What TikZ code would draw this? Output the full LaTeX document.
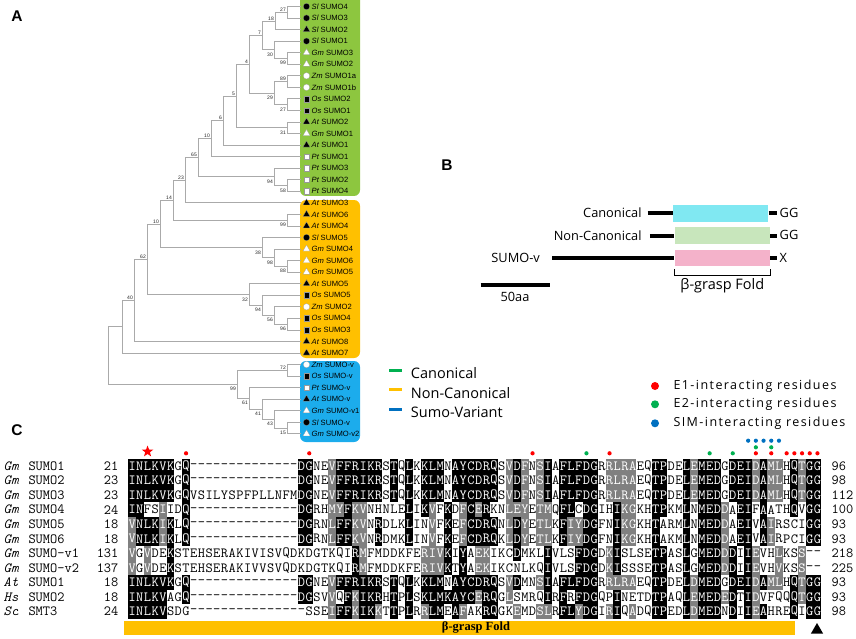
\documentclass[tikz,border=0pt]{standalone}
\usepackage{fontspec}
\setmainfont{Liberation Sans}
\newfontfamily\legfont{Open Sans}
\newfontfamily\foldfont{Liberation Serif}
\newcommand\seqfont{\ttfamily}
\usepackage{xstring}
\usetikzlibrary{calc,positioning,shapes.geometric}

\definecolor{canon}{RGB}{141,198,63}
\definecolor{noncanon}{RGB}{255,192,0}
\definecolor{sumov}{RGB}{28,172,236}
\definecolor{legcanon}{RGB}{0,176,80}
\definecolor{legsumov}{RGB}{0,112,192}
\definecolor{boxcanon}{RGB}{128,232,242}
\definecolor{boxnon}{RGB}{200,230,188}
\definecolor{boxsumov}{RGB}{244,178,202}
\definecolor{treegray}{RGB}{170,170,170}
\definecolor{e1red}{RGB}{255,0,0}
\definecolor{e2green}{RGB}{0,176,80}
\definecolor{simblue}{RGB}{0,112,192}
\colorlet{shk}{black}
\colorlet{shg}{black!50}
\colorlet{shw}{white}
\colorlet{txk}{white}
\colorlet{txg}{white}
\colorlet{txw}{black}

\tikzset{
  branch/.style={draw=treegray, line width=0.8pt},
  boot/.style={font=\fontsize{5}{5}\selectfont, inner sep=0pt, text=black!85},
  bsu/.style={boot, anchor=south east, xshift=-1pt, yshift=0.6pt},
  bsl/.style={boot, anchor=north east, xshift=-1pt, yshift=-2.8pt},
  sym/.style={inner sep=0pt, draw=black!40, line width=0.2pt},
  bc/.style={sym, circle, fill=black, minimum size=6.4pt},
  wc/.style={sym, circle, fill=white, minimum size=6.4pt},
  bt/.style={sym, regular polygon, regular polygon sides=3, fill=black, minimum size=8pt},
  wt/.style={sym, regular polygon, regular polygon sides=3, fill=white, minimum size=8pt},
  bs/.style={sym, rectangle, fill=black, minimum size=5.6pt},
  ws/.style={sym, rectangle, fill=white, minimum size=5.6pt},
  leaflab/.style={anchor=west, inner sep=0pt, font=\fontsize{7.6}{8}\selectfont},
  panel/.style={font=\bfseries\fontsize{15.5}{16}\selectfont, inner sep=0pt},
  blab/.style={inner sep=0pt, font=\legfont\fontsize{12.8}{13}\selectfont},
  bbox/.style={inner sep=0pt, minimum width=95.3pt, minimum height=16.7pt},
  protline/.style={line width=4pt},
  legkey/.style={inner sep=0pt, minimum width=13pt, minimum height=3.8pt},
  legtxt/.style={anchor=west, inner sep=0pt, font=\legfont\fontsize{14.5}{15}\selectfont},
  dotkey/.style={circle, inner sep=0pt, minimum size=8pt},
  restxt/.style={anchor=west, inner sep=0pt,
    font=\legfont\addfontfeature{LetterSpace=11.5}\fontsize{12.5}{13}\selectfont},
  namelab/.style={anchor=west, inner sep=0pt, font=\seqfont\fontsize{14}{14}\selectfont},
  res/.style={inner sep=0pt, minimum width=7.8pt, minimum height=14.7pt,
    font=\seqfont\fontsize{14}{14}\selectfont},
}

% one clade: name, upper child, lower child, x of node, bootstrap, label style
\newcommand\clade[6]{%
  \path let \p1=($(#2)!0.5!(#3)$) in coordinate (#1) at (#4pt,\y1);
  \draw[branch] (#2) -- (#2 -| #1) -- (#3 -| #1) -- (#3);
  \node[#6] (bs#1) at (#1) {#5};
}

% one alignment row: row, species, protein, first, residues, shading, last
\newcommand\alnrow[7]{%
  \pgfmathsetmacro\rowy{466+(#1-1)*14.55}
  \node[namelab] (sp#1) at (3.5,\rowy) {\itshape #2};
  \node[namelab] (pn#1) at (28.3,\rowy) {#3};
  \node[namelab, anchor=east] (na#1) at (118.6,\rowy) {#4};
  \foreach \col in {1,...,90}{%
    \StrChar{#5}{\col}[\rch]%
    \StrChar{#6}{\col}[\shd]%
    \node[res, fill=sh\shd, text=tx\shd] (c#1x\col) at ({128.3+(\col-0.5)*7.7},\rowy) {\rch};
  }
  \node[namelab] (nb#1) at (831.5,\rowy) {#7};
}

\begin{document}
\begin{tikzpicture}[x=1pt,y=-1pt]
\useasboundingbox (0,0) rectangle (856,639);

%% A: tree
\node[panel] (pa) at (17,16) {A};
\fill[canon, rounded corners=6pt] (300,-8) rectangle (360,196);
\fill[noncanon, rounded corners=6pt] (300,200) rectangle (360,358);
\fill[sumov, rounded corners=6pt] (300,361) rectangle (360,442);

\foreach \sym/\sp/\nm [count=\i] in {bc/Sl/SUMO4, bc/Sl/SUMO3, bt/Sl/SUMO2,
  bc/Sl/SUMO1, wt/Gm/SUMO3, wt/Gm/SUMO2, wc/Zm/SUMO1a, wc/Zm/SUMO1b,
  bs/Os/SUMO2, bs/Os/SUMO1, bt/At/SUMO2, wt/Gm/SUMO1, bt/At/SUMO1,
  ws/Pt/SUMO1, ws/Pt/SUMO3, ws/Pt/SUMO2, ws/Pt/SUMO4, bt/At/SUMO3,
  bt/At/SUMO6, bt/At/SUMO4, bc/Sl/SUMO5, wt/Gm/SUMO4, wt/Gm/SUMO6,
  wt/Gm/SUMO5, bt/At/SUMO5, bs/Os/SUMO5, wc/Zm/SUMO2, bs/Os/SUMO4,
  bs/Os/SUMO3, bt/At/SUMO8, bt/At/SUMO7, wc/Zm/SUMO-v, bs/Os/SUMO-v,
  ws/Pt/SUMO-v, bt/At/SUMO-v, wt/Gm/SUMO-v1, bc/Sl/SUMO-v, wt/Gm/SUMO-v2}
{
  \coordinate (L\i) at (301,{6.5+(\i-1)*11.55});
  \node[\sym] (s\i) at (306.5,{6.5+(\i-1)*11.55}) {};
  \node[leaflab] (t\i) at (311.5,{6.5+(\i-1)*11.55}) {\textit{\sp} \nm};
}
% canonical clade
\clade{g1}{L1}{L2}{287}{27}{bsu}
\clade{g2}{g1}{L3}{275}{18}{bsu}
\clade{g3}{L5}{L6}{287}{99}{bsl}
\clade{g4}{L4}{g3}{274}{30}{bsl}
\clade{g5}{g2}{g4}{262}{7}{bsu}
\clade{g6}{L7}{L8}{287}{89}{bsu}
\clade{g7}{L9}{L10}{287}{27}{bsl}
\clade{g8}{g6}{g7}{274}{29}{bsl}
\clade{g9}{g5}{g8}{249}{4}{bsu}
\clade{g10}{L11}{L12}{287}{31}{bsl}
\clade{g11}{g9}{g10}{236}{5}{bsu}
\clade{g12}{g11}{L13}{223}{6}{bsu}
\clade{g13}{g12}{L14}{211}{10}{bsu}
\clade{g14}{L16}{L17}{287}{58}{bsl}
\clade{g15}{L15}{g14}{274}{94}{bsl}
\clade{g16}{g13}{g15}{198}{65}{bsu}
\clade{g17}{g16}{L18}{185}{23}{bsu}
% non-canonical clade
\clade{o1}{L19}{L20}{287}{99}{bsl}
\clade{g18}{g17}{o1}{173}{14}{bsu}
\clade{o2}{L23}{L24}{287}{88}{bsl}
\clade{o3}{L22}{o2}{274}{98}{bsl}
\clade{o4}{L21}{o3}{262}{38}{bsl}
\clade{o5}{g18}{o4}{160}{10}{bsu}
\clade{o6}{L28}{L29}{287}{96}{bsl}
\clade{o7}{L27}{o6}{274}{56}{bsl}
\clade{o8}{L26}{o7}{262}{94}{bsl}
\clade{o9}{L25}{o8}{249}{32}{bsl}
\clade{o10}{o5}{o9}{147}{62}{bsu}
\clade{o11}{o10}{L30}{134}{40}{bsu}
\clade{o12}{o11}{L31}{122}{}{boot}
% sumo-variant clade
\clade{b1}{L32}{L33}{287}{72}{bsu}
\clade{b2}{L37}{L38}{287}{15}{bsl}
\clade{b3}{L36}{b2}{274}{43}{bsl}
\clade{b4}{L35}{b3}{262}{41}{bsl}
\clade{b5}{L34}{b4}{249}{61}{bsl}
\clade{b6}{b1}{b5}{237}{99}{bsl}
\clade{root}{o12}{b6}{108}{}{boot}

%% B: domain sketch
\node[panel] (pb) at (447,165) {B};
\node[bbox, fill=boxcanon] (canbox) at (720.8,213.3) {};
\node[bbox, fill=boxnon] (nonbox) at (722.3,235.7) {};
\node[bbox, fill=boxsumov, minimum height=15.7pt] (svbox) at (722.3,257.8) {};
\node[blab, anchor=east] (canlab) at (641.7,212.7) {Canonical};
\node[blab, anchor=east] (nonlab) at (641.7,235.3) {Non-Canonical};
\node[blab, anchor=east] (svlab) at (540,258.3) {SUMO-v};
\coordinate[left=25.3pt of canbox.west] (canin);
\coordinate[left=24.7pt of nonbox.west] (nonin);
\coordinate[left=122pt of svbox.west] (svin);
\node[blab, anchor=west] (cangg) at (779.5,212.7) {GG};
\node[blab, anchor=west] (nongg) at (779.5,235.3) {GG};
\node[blab, anchor=west] (svx) at (779.5,258.3) {X};
\draw[protline] (canin) -- (canbox.west);
\draw[protline] (nonin) -- (nonbox.west);
\draw[protline] (svin) -- (svbox.west);
\draw[protline, shorten >=3pt] (canbox.east) -- (canbox.east -| cangg.west);
\draw[protline, shorten >=3pt] (nonbox.east) -- (nonbox.east -| nongg.west);
\draw[protline, shorten >=3pt] (svbox.east) -- (svbox.east -| svx.west);
\draw[line width=0.8pt] ([yshift=-3.5pt]svbox.south west) -- ++(0,6)
  -| ([yshift=-3.5pt]svbox.south east);
\node[blab, font=\legfont\fontsize{14.5}{15}\selectfont] (foldlab) at (722.3,286) {β-grasp Fold};
\coordinate (sc0) at (480.7,285);
\coordinate (sc1) at (550,285);
\draw[protline] (sc0) -- (sc1);
\node[blab] (sclab) at (515,296.5) {50aa};

%% legends
\node[legkey, fill=legcanon] (kcan) at (395.5,370.5) {};
\node[legkey, fill=noncanon] (knon) at (395.5,389.5) {};
\node[legkey, fill=legsumov] (ksv) at (395.5,409.5) {};
\node[legtxt] (tcan) at (410.7,373.3) {Canonical};
\node[legtxt] (tnon) at (410.7,393.3) {Non-Canonical};
\node[legtxt] (tsv) at (410.7,412.7) {Sumo-Variant};
\node[dotkey, fill=e1red] (ke1) at (655,386) {};
\node[dotkey, fill=e2green] (ke2) at (655,404.3) {};
\node[dotkey, fill=simblue] (ksim) at (655,423.3) {};
\node[restxt] (te1) at (673.3,386) {E1-interacting residues};
\node[restxt] (te2) at (673.3,404.3) {E2-interacting residues};
\node[restxt] (tsim) at (673.3,423.3) {SIM-interacting residues};

%% C: alignment
\node[panel] (pc) at (17,430) {C};
\node[star, star points=5, star point ratio=2.4, fill=e1red, inner sep=0pt,
  minimum size=12pt] (star) at ({128.3+2.5*7.7},451.5) {};
\foreach \col in {8,24,53,63,82,84,86,87,88,89,90}
  \fill[e1red] ({128.3+(\col-0.5)*7.7},453.3) circle (2.1);
\foreach \col in {60,76,79}
  \fill[e2green] ({128.3+(\col-0.5)*7.7},453.3) circle (2.1);
\foreach \col in {82,84}
  \fill[e2green] ({128.3+(\col-0.5)*7.7},447.3) circle (2.1);
\foreach \col in {81,...,85}
  \fill[simblue] ({128.3+(\col-0.5)*7.7},440.7) circle (2.1);

\alnrow{1}{Gm}{SUMO1}{21}
  {INLKVKGQ--------------DGNEVFFRIKRSTQLKKLMNAYCDRQSVDFNSIAFLFDGRRLRAEQTPDELEMEDGDEIDAMLHQTGG}
  {kkkkkkwkwwwwwwwwwwwwwwkkwwgkkkkkkwkwkwkkkwkkkkkkwgkgwgkwkkkkkwggggwwkkwwkgkkkwkkkgkggwkgkk}{96}
\alnrow{2}{Gm}{SUMO2}{23}
  {INLKVKGQ--------------DGNEVFFRIKRSTQLKKLMNAYCDRQSVDFNSIAFLFDGRRLRAEQTPDELEMEDGDEIDAMLHQTGG}
  {kkkkkkwkwwwwwwwwwwwwwwkkwwgkkkkkkwkwkwkkkwkkkkkkwgkgwgkwkkkkkwggggwwkkwwkgkkkwkkkgkggwkgkk}{98}
\alnrow{3}{Gm}{SUMO3}{23}
  {INLKVKGQVSILYSPFPLLNFMDGNEVFFRIKRSTQLKKLMNAYCDRQSVDFNSIAFLFDGRRLRAEQTPDELEMEDGDEIDAMLHQTGG}
  {kkkkkkwkwwwwwwwwwwwwwwkkwwgkkkkkkwkwkwkkkwkkkkkkwgkgwgkwkkkkkwggggwwkkwwkgkkkwkkkgkggwkgkk}{112}
\alnrow{4}{Gm}{SUMO4}{24}
  {INFSIIDQ--------------DGRHMYFKVNHNLELIKVFKDFCERKNLEYETMQFLCDGIHIKGKHTPKMLNMEDDAEIFAATHQVGG}
  {kkwwgwwkwwwwwwwwwwwwwwkkwwggkggwwwwwkwkgwkwgkgkwwgggwggwkkwkkwwkggwwkkwwkwkkkgwkkwkwwwkwkk}{100}
\alnrow{5}{Gm}{SUMO5}{18}
  {VNLKIKLQ--------------DGRNLFFKVNRDLKLINVFKEFCDRQNLDYETLKFIYDGFNIKGKHTARMLNMEDDAEIVAIRSCIGG}
  {gkkkgkwkwwwwwwwwwwwwwwkkwwgkkggwkwwwkwwgwkwgkkkkwgkgwggwkggkkwwkggwwkwwwkwkkkgwkkwkgwwwwkk}{93}
\alnrow{6}{Gm}{SUMO6}{18}
  {VNLKIKLQ--------------DGRNLFFKVNRDMKLINVFKEFCDRQKLDYETLKFIYDGFNIKGKHTAKMLNMEDDAEIVAIRPCIGG}
  {gkkkgkwkwwwwwwwwwwwwwwkkwwgkkggwkwwwkwwgwkwgkkkkwgkgwggwkggkkwwkggwwkwwwkwkkkgwkkwkgwwwwkk}{93}
\alnrow{7}{Gm}{SUMO-v1}{131}
  {VGVDEKSTEHSERAKIVISVQDKDGTKQIRMFMDDKFERIVKIYAEKIKCDMKLIVLSFDGDKISLSETPASLGMEDDDIIEVHLKSS--}
  {gwgwwkwwwwwwwwwwwwwwwwwwwwwwwkgwwwwwwwgggkwkwggwwwkwwwkwwwkkkwgkwwwwkkwwkwkkkgkwkgwwgwwgww}{218}
\alnrow{8}{Gm}{SUMO-v2}{137}
  {VGVDEKSTEHSERAKIVVSVQDKDGTKQIRMFMDDKFERIVKTYAEKIKCNLKQIVLSFDGDKISSSETPASLGMEDDDIIEVHVKSS--}
  {gwgwwkwwwwwwwwwwwwwwwwwwwwwwwkgwwwwwwwgggkwkwggwwwwwwwkwwwkkkwgkwwwwkkwwkwkkkgkwkgwwgwwgww}{225}
\alnrow{9}{At}{SUMO1}{18}
  {INLKVKGQ--------------DGNEVFFRIKRSTQLKKLMNAYCDRQSVDMNSIAFLFDGRRLRAEQTPDELDMEDGDEIDAMLHQTGG}
  {kkkkkkwkwwwwwwwwwwwwwwkkwwgkkkkkkwkwkwkkkwkkkkkkwgkwwgkwkkkkkwggggwwkkwwkgkkkwkkkgkggwkgkk}{93}
\alnrow{10}{Hs}{SUMO2}{18}
  {INLKVAGQ--------------DGSVVQFKIKRHTPLSKLMKAYCERQGLSMRQIRFRFDGQPINETDTPAQLEMEDEDTIDVFQQQTGG}
  {kkkkkwwkwwwwwwwwwwwwwwkkwwgwkgkkkwkwkwkkkkkkkgkkwgwwwwkwkwkkkwwkwwwwkkwwkgkkkgkwkgwwwwkgkk}{93}
\alnrow{11}{Sc}{SMT3}{24}
  {INLKVSDG---------------SSEIFFKIKKTTPLRRLMEAFAKRQGKEMDSLRFLYDGIRIQADQTPEDLDMEDNDIIEAHREQIGG}
  {kkkkkwwwwwwwwwwwwwwwwwwwwwgkkgkkgwkwkwgkkwkgwwkkwwgwwggwkkgkkwgkwgwwkkwwkgkkkwkwkgkwwwkwkk}{98}

\node[fill=noncanon, inner sep=0pt, minimum width=671pt, minimum height=14.3pt] (fbar) at (459.5,627.9) {};
\node[inner sep=0pt, font=\foldfont\bfseries\fontsize{12.5}{13}\selectfont] (fbarlab) at (476,627) {β-grasp Fold};
\node[regular polygon, regular polygon sides=3, fill=black, inner sep=0pt, minimum size=14pt] (ggtip) at (817,630) {};
\end{tikzpicture}
\end{document}
